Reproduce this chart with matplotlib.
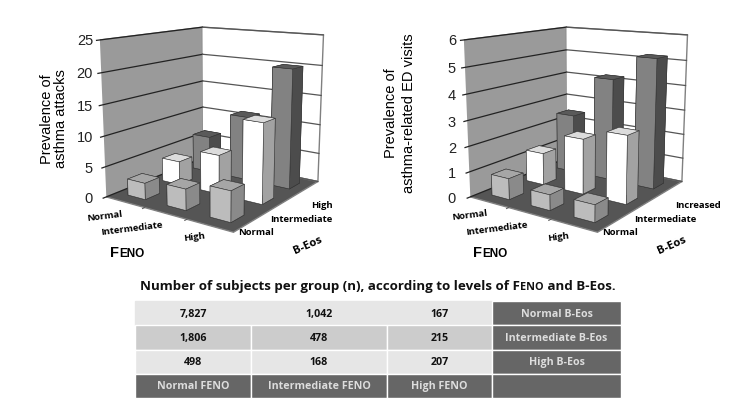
import matplotlib
matplotlib.use("Agg")
import matplotlib.pyplot as plt
from mpl_toolkits.mplot3d import Axes3D, proj3d

W, H = 741, 410

feno_levels = ["Normal", "Intermediate", "High"]
eos_levels_left = ["Normal", "Intermediate", "High"]
eos_levels_right = ["Normal", "Intermediate", "Increased"]

# rows: B-Eos normal, intermediate, high / columns: FENO normal, intermediate, high
attacks_normal = [2.7, 3.4, 4.8]
attacks_intermediate = [4.0, 6.5, 13.0]
attacks_high = [6.3, 11.0, 20.0]

visits_normal = [0.83, 0.6, 0.65]
visits_intermediate = [1.3, 2.2, 2.65]
visits_high = [2.45, 4.2, 5.2]

ticks_left = [0, 5, 10, 15, 20, 25]
ticks_right = [0, 1, 2, 3, 4, 5, 6]

table_rows = [["7,827", "1,042", "167", "Normal B-Eos"],
              ["1,806", "478", "215", "Intermediate B-Eos"],
              ["498", "168", "207", "High B-Eos"],
              ["Normal FENO", "Intermediate FENO", "High FENO", ""]]

# front, side and top shades for each B-Eos row
row_faces = [("#bcbcbc", "#8a8a8a", "#a6a6a6"),
             ("#ffffff", "#a2a2a2", "#dcdcdc"),
             ("#828282", "#4c4c4c", "#5a5a5a")]

sans = "Liberation Sans"
lab = "Open Sans"


def px_text(x, y, s, **kw):
    return fig.text(x / W, 1 - y / H, s, **kw)


def chart(rect, rows, ticks, label_x):
    ax = fig.add_axes([rect[0] / W, 1 - (rect[1] + rect[3]) / H, rect[2] / W, rect[3] / H],
                      projection="3d", computed_zorder=False)
    ax.patch.set_alpha(0)
    zmax = ticks[-1]
    ax.set_xlim(0, 3)
    ax.set_ylim(0, 3)
    ax.set_zlim(0, zmax)
    ax.set_box_aspect((1.04, 1.12, 1.07), zoom=0.94)
    ax.view_init(elev=13, azim=-55)
    ax.set_proj_type("persp", focal_length=0.42)
    ax.set_xticks([])
    ax.set_yticks([])
    ax.set_zticks([])
    ax.grid(False)
    for a, c in ((ax.xaxis, "#9a9a9a"), (ax.yaxis, "#ffffff"), (ax.zaxis, "#555555")):
        a.set_pane_color(c)
        a.pane.set_edgecolor("#808080")
        a.line.set_color((0, 0, 0, 0))
    for v in ticks:
        ax.plot([0, 0], [-0.08, 3], [v, v], color="#222222", lw=0.9, zorder=1)
        ax.plot([0, 3], [3, 3], [v, v], color="#555555", lw=0.9, zorder=1)
        # tick labels sit in one right-aligned column, level with the wall lines
        xp, yp, _ = proj3d.proj_transform(0, -0.08, v, ax.get_proj())
        ypix = ax.transData.transform((xp, yp))[1]
        fig.text(label_x / W, ypix / H, str(v), ha="right", va="center", fontsize=10.5,
                 family=sans, color="#222222")
    for i in (1, 2):
        ax.plot([i, i], [0, -0.06], [0, 0], color="#555555", lw=0.7, zorder=1)
    z = 10
    for j in (2, 1, 0):
        for i in range(3):
            front, side, top = row_faces[j]
            ax.bar3d(i + 0.28, j + 0.3, 0, 0.45, 0.4, rows[j][i],
                     color=["#555555", top, front, front, side, side],
                     shade=False, edgecolor="#333333", linewidth=0.4, zorder=z)
            z += 1
    return ax


def small_caps(x, y, big, small):
    t = px_text(x, y, big, fontsize=10.5, weight="bold", family=sans, va="center")
    plt.annotate(small, xy=(1, 0), xycoords=t, xytext=(0, 0), textcoords="offset points",
                 fontsize=8.5, weight="bold", family=sans, va="bottom", annotation_clip=False)


fig = plt.figure(figsize=(W / 100, H / 100), dpi=100)

chart((47, -20, 330, 280), [attacks_normal, attacks_intermediate, attacks_high], ticks_left, 93)
chart((411, -20, 330, 280), [visits_normal, visits_intermediate, visits_high], ticks_right, 456)

# axis titles and category labels
px_text(54, 119, "Prevalence of\nasthma attacks", rotation=90, ha="center", va="center",
        fontsize=10.5, family=sans, linespacing=1.05)
px_text(400, 113, "Prevalence of\nasthma-related ED visits", rotation=90, ha="center", va="center",
        fontsize=10.5, family=sans, linespacing=1.3)

for s, x, y in zip(feno_levels, [105, 132, 194], [216, 229, 237]):
    px_text(x, y, s, fontsize=6.8, weight="bold", family=lab, rotation=7, ha="center", va="center")
for s, x, y in zip(eos_levels_left, [256, 301, 322], [233, 220, 206]):
    px_text(x, y, s, fontsize=6.8, weight="bold", family=lab, ha="center", va="center")
small_caps(110, 253, "F", "ENO")
px_text(308, 246, "B-Eos", fontsize=8.2, weight="bold", family=lab, rotation=24, ha="center", va="center")

for s, x, y in zip(feno_levels, [470, 497, 558], [215, 229, 237]):
    px_text(x, y, s, fontsize=6.8, weight="bold", family=lab, rotation=7, ha="center", va="center")
for s, x, y in zip(eos_levels_right, [620, 665, 698], [233, 220, 206]):
    px_text(x, y, s, fontsize=6.8, weight="bold", family=lab, ha="center", va="center")
small_caps(473, 253, "F", "ENO")
px_text(672, 246, "B-Eos", fontsize=8.2, weight="bold", family=lab, rotation=24, ha="center", va="center")

# table
tab_ax = fig.add_axes([135 / W, 1 - 399 / H, (621 - 135) / W, (399 - 302) / H])
tab_ax.axis("off")
col_w = [116 / 486, 136 / 486, 105 / 486, 129 / 486]
table = tab_ax.table(cellText=table_rows, colWidths=col_w, bbox=[0, 0, 1, 1], cellLoc="center")
table.auto_set_font_size(False)
row_bg = ["#e6e6e6", "#cccccc", "#e6e6e6"]
for (r, c), cell in table.get_celld().items():
    dark = r == 3 or c == 3
    cell.set_facecolor("#666666" if dark else row_bg[r])
    cell.set_edgecolor("#e6e6e6" if (r == 0 and c < 3) else "white")
    cell.set_linewidth(1.0)
    cell.get_text().set_color("#dddddd" if dark else "#111111")
    cell.get_text().set_fontsize(7.7)
    cell.get_text().set_fontweight("bold")
    cell.get_text().set_family(lab)

# title, with FENO in small capitals
t1 = px_text(140, 287, "Number of subjects per group (n), according to levels of F", fontsize=9.6,
             weight="bold", family=lab, va="center", color="#111111")
t2 = plt.annotate("ENO", xy=(1, 0), xycoords=t1, xytext=(0, 0), textcoords="offset points",
                  fontsize=7.8, weight="bold", family=lab, va="bottom", color="#111111",
                  annotation_clip=False)
plt.annotate(" and B-Eos.", xy=(1, 0), xycoords=t2, xytext=(0, 0), textcoords="offset points",
             fontsize=9.6, weight="bold", family=lab, va="bottom", color="#111111",
             annotation_clip=False)

fig.savefig("out.png", dpi=100)
